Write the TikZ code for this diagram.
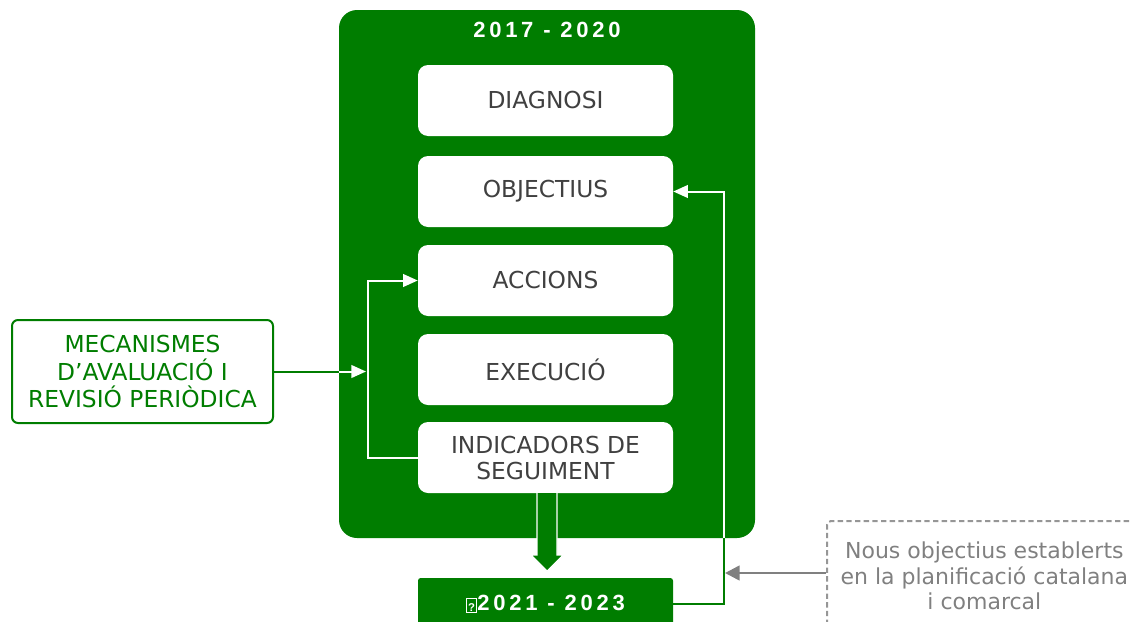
\documentclass[tikz,border=0pt]{standalone}
\usepackage{fontspec}
\setmainfont{DejaVu Sans}
\newfontfamily\yearfont[LetterSpace=17]{Liberation Sans}
\usetikzlibrary{positioning,arrows.meta}
\definecolor{plagreen}{RGB}{0,125,0}
\definecolor{boxtext}{RGB}{64,64,64}
\definecolor{notegray}{RGB}{128,128,128}
\definecolor{dashgray}{RGB}{150,150,150}
\tikzset{
	stepbox/.style={fill=white, rounded corners=7.5pt, minimum width=191.25pt, minimum height=53.25pt,
		align=center, text=boxtext, font=\fontsize{17.5}{19.5}\selectfont, inner sep=0pt},
	yearlabel/.style={text=white, font=\yearfont\bfseries\fontsize{16.5}{18}\selectfont},
	link/.style={line width=1.5pt},
	tip/.style={-{Triangle[length=11pt,width=9.5pt]}}
}
\begin{document}
\begin{tikzpicture}[x=0.75pt,y=-0.75pt]
		\useasboundingbox (0,0) rectangle (1130,621);
		\clip (0,0) rectangle (1130,621);
		%period 2017-2020
		\node (frame) at (547,274) [fill=plagreen, rounded corners=13.5pt, minimum width=312pt, minimum height=396pt]{};
		\node (title) at (547,30) [yearlabel]{2017 - 2020};
		
		\node (diag) at (545.5,100.5) [stepbox]{DIAGNOSI};
		\node (obj) at (545.5,191.5) [stepbox]{OBJECTIUS};
		\node (acc) at (545.5,280.5) [stepbox]{ACCIONS};
		\node (exec) at (545.5,369.5) [stepbox]{EXECUCIÓ};
		\node (ind) at (545.5,457.5) [stepbox]{INDICADORS DE\\SEGUIMENT};
		
		%next period
		\node (next) at (545.5,604) [fill=plagreen, rounded corners=2pt, minimum width=191.25pt, minimum height=39pt, yearlabel]
			{{\setlength\fboxsep{0.6pt}\setlength\fboxrule{0.8pt}\raisebox{-0.5pt}{\fbox{\rule{0pt}{8.5pt}\fontsize{8.5}{8.5}\selectfont ?}}}\hspace{0.5pt}2021 - 2023};
		\draw[fill=plagreen, draw=white, line width=0.8pt] (537,493) -- (537,555) -- (531,555) -- (547,571)
			-- (563,555) -- (557,555) -- (557,493);
		
		%review loop
		\node (mec) at (142.5,371.5) [draw=plagreen, line width=1.5pt, rounded corners=4.5pt, minimum width=195.75pt,
			minimum height=77.25pt, align=center, text=plagreen, font=\fontsize{17.5}{20.5}\selectfont]
			{MECANISMES\\D’AVALUACIÓ I\\REVISIÓ PERIÒDICA};
		\coordinate (join) at (366,371.5);
		\coordinate (edge) at (frame.west |- mec.east);
		\draw[link, white, tip] (ind.west) -| (368,371.5) |- (acc.west);
		\draw[link, plagreen] (mec.east) -- (edge);
		\draw[link, white, tip] (edge) -- (join);
		
		%new objectives
		\node (nous) [anchor=north west, draw=dashgray, dashed, dash pattern=on 4pt off 2.5pt, line width=1.5pt,
			rounded corners=3pt, minimum width=236pt, minimum height=82.5pt, align=center, text=notegray,
			font=\fontsize{16.5}{19}\selectfont] at (826,520)
			{Nous objectius establerts\\en la planificació catalana\\i comarcal};
		\coordinate (back) at (724,538);
		\coordinate (hit) at (725,573);
		\draw[link, plagreen] (next.east) -| (back);
		\draw[link, white, tip] (back) |- (obj.east);
		\draw[line width=2pt, notegray, -{Triangle[length=11pt,width=11pt]}] (nous.west |- hit) -- (hit);
\end{tikzpicture}
\end{document}
